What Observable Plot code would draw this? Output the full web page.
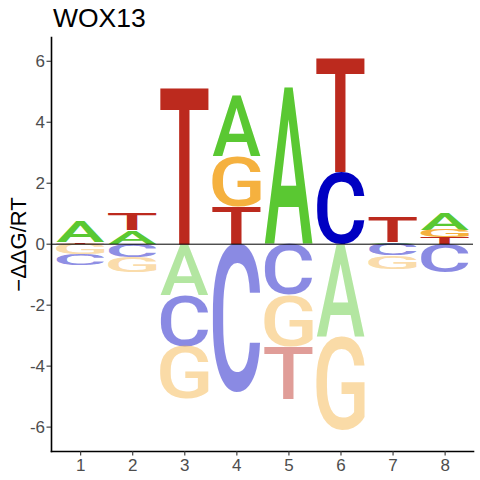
<!DOCTYPE html>
<html><head><meta charset="utf-8">
<script src="https://cdn.jsdelivr.net/npm/d3@7"></script>
<script src="https://cdn.jsdelivr.net/npm/@observablehq/plot@0.6"></script>
<style>html,body{margin:0;padding:0;background:#fff}</style>
</head><body><div id="chart"></div>
<script>
// ---- data ----
const title = "WOX13";
const yLabel = "−ΔΔG/RT";
const positions = [1, 2, 3, 4, 5, 6, 7, 8];
const bases = ["A", "C", "G", "T"];
const valA = [0.68, 0.44, -1.68, 2.00, 5.19, -3.04, 0.05, 0.55];
const valC = [-0.36, -0.44, -1.70, -4.87, -1.68, 2.36, -0.38, -0.93];
const valG = [-0.33, -0.49, -1.72, 1.64, -1.70, -3.08, -0.46, 0.24];
const valT = [0.05, 0.57, 5.19, 1.23, -1.72, 3.77, 0.85, 0.20];
const yTicks = [-6, -4, -2, 0, 2, 4, 6];

// ---- styles ----
const baseColors = {A: "#5AC832", C: "#0000C2", G: "#F5B13F", T: "#BC2A1E"};
const negOpacity = 0.46;
const letterFont = "Roboto";
const letterWeight = 500;
const halfWidth = 0.465;

const valuesByBase = {A: valA, C: valC, G: valG, T: valT};
const table = positions.flatMap((p, i) => bases.map(b => ({pos: p, letter: b, value: valuesByBase[b][i]})));

const ctx = document.createElement("canvas").getContext("2d");
const boxCache = {};
function glyphBox(letter) {
  if (!boxCache[letter]) {
    ctx.font = `${letterWeight} 100px "${letterFont}"`;
    ctx.textAlign = "left";
    ctx.textBaseline = "alphabetic";
    const m = ctx.measureText(letter);
    boxCache[letter] = {l: m.actualBoundingBoxLeft, r: m.actualBoundingBoxRight, a: m.actualBoundingBoxAscent, d: m.actualBoundingBoxDescent};
  }
  return boxCache[letter];
}

function renderLetters(index, scales, values) {
  const g = d3.create("svg:g").attr("text-anchor", "start");
  for (const i of index) {
    const d = table[i];
    const xa = scales.x(d.pos - halfWidth), xb = scales.x(d.pos + halfWidth);
    const x1 = Math.min(xa, xb), x2 = Math.max(xa, xb);
    const top = Math.min(values.y1[i], values.y2[i]), bot = Math.max(values.y1[i], values.y2[i]);
    if (bot - top < 0.05) continue;
    const b = glyphBox(d.letter);
    const sx = (x2 - x1) / (b.l + b.r), sy = (bot - top) / (b.a + b.d);
    g.append("text")
      .attr("transform", `translate(${x1},${top}) scale(${sx},${sy}) translate(${b.l},${b.a})`)
      .attr("text-anchor", "start")
      .attr("font-family", letterFont)
      .attr("font-weight", letterWeight)
      .attr("font-size", 100)
      .attr("fill", baseColors[d.letter])
      .attr("fill-opacity", d.value < 0 ? negOpacity : 1)
      .text(d.letter);
  }
  return g.node();
}

const chart = Plot.plot({
  width: 480,
  height: 480,
  marginLeft: 51,
  marginRight: 7,
  marginTop: 37,
  marginBottom: 29,
  style: {fontFamily: "'Liberation Sans', Arial, sans-serif", background: "#fff"},
  x: {domain: [0.44, 8.545]},
  y: {domain: [-6.8, 6.78]},
  marks: [
    Plot.rectY(table, Plot.stackY({
      x: "pos",
      interval: 1,
      y: "value",
      order: d => Math.abs(d.value),
      render: renderLetters
    })),
    Plot.ruleY([0], {stroke: "black", strokeWidth: 1}),
    Plot.frame({anchor: "left", stroke: "black", strokeWidth: 1.6}),
    Plot.frame({anchor: "bottom", stroke: "black", strokeWidth: 1.6}),
    Plot.axisX({ticks: positions, tickFormat: d => String(d), tickSize: 4.5, tickPadding: 3, fontSize: 17, fill: "#4D4D4D", stroke: "#333", strokeWidth: 1.1, label: null}),
    Plot.axisY({ticks: yTicks, tickFormat: d => String(d), tickSize: 4.5, tickPadding: 2, fontSize: 17, fill: "#4D4D4D", stroke: "#333", strokeWidth: 1.1, label: null}),
    Plot.text([yLabel], {text: d => d, frameAnchor: "left", rotate: -90, dx: -26, lineAnchor: "bottom", textAnchor: "middle", fontSize: 22, fill: "black"}),
    Plot.text([title], {text: d => d, frameAnchor: "top-left", dx: 1.5, dy: -10.3, lineAnchor: "bottom", textAnchor: "start", fontSize: 26.5, fill: "black"})
  ]
});
document.getElementById("chart").appendChild(chart);
</script>
</body></html>
